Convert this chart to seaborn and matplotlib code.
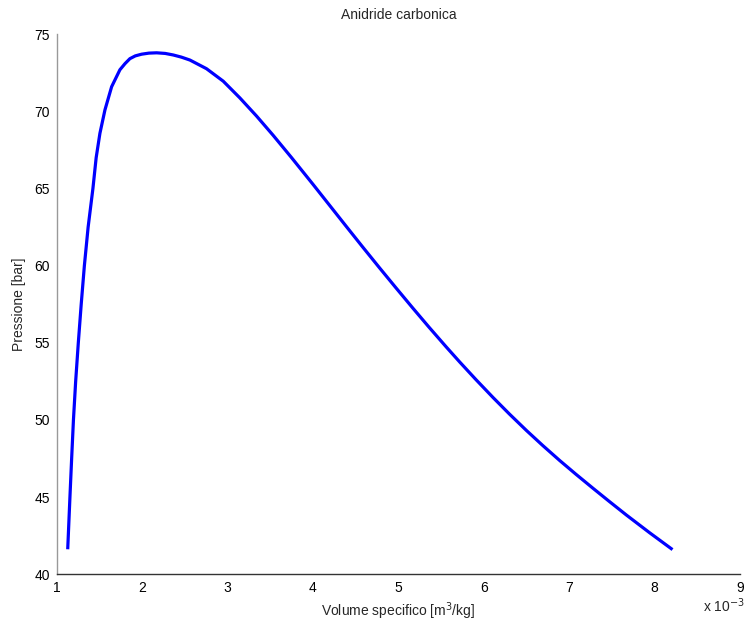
import matplotlib
matplotlib.use("Agg")
import matplotlib.pyplot as plt
import seaborn as sns
import pandas as pd
from matplotlib.ticker import FuncFormatter, FixedLocator

# Saturation curve of CO2
volume_e3 = [1.129, 1.155, 1.175, 1.196, 1.222, 1.253, 1.287, 1.324, 1.368, 1.424,
             1.462, 1.506, 1.565, 1.643, 1.74, 1.80, 1.857,
             1.92, 1.994, 2.08, 2.17, 2.27, 2.364, 2.46, 2.56, 2.754, 2.95,
             3.144, 3.34, 3.533, 3.749, 4.00, 4.20, 4.39, 4.58, 4.78, 4.97,
             5.17, 5.36, 5.56, 5.72, 5.91, 6.11, 6.30, 6.50, 6.69, 6.89,
             7.08, 7.28, 7.47, 7.67, 7.94, 8.21]
pressure_bar = [41.62, 45.0, 47.5, 50.0, 52.5, 55.0, 57.5, 60.0, 62.5, 65.0,
                67.0, 68.58, 70.1, 71.6, 72.7, 73.1, 73.42,
                73.6, 73.71, 73.78, 73.8, 73.76, 73.66, 73.52, 73.33, 72.77, 71.96,
                70.88, 69.70, 68.46, 67.01, 65.28, 63.88, 62.55, 61.23, 59.86, 58.58,
                57.25, 56.01, 54.74, 53.75, 52.61, 51.45, 50.39, 49.32, 48.35, 47.37,
                46.48, 45.57, 44.72, 43.84, 42.70, 41.60]
x_ticks = [1, 2, 3, 4, 5, 6, 7, 8, 9]
y_ticks = [40, 45, 50, 55, 60, 65, 70, 75]

df = pd.DataFrame({"v": [v * 1e-3 for v in volume_e3], "p": pressure_bar})

sns.set_style("white")
plt.rcParams["font.family"] = ["Liberation Sans", "DejaVu Sans"]

fig = plt.figure(figsize=(7.47, 6.27), dpi=100)
ax = fig.add_axes([0.0759, 0.0841, 0.9147, 0.8612])

sns.lineplot(data=df, x="v", y="p", sort=False, color="#0000ff",
             linewidth=2.3, ax=ax, estimator=None)
ax.lines[0].set_solid_joinstyle("round")
ax.lines[0].set_solid_capstyle("butt")

ax.set_xlim(1e-3, 9e-3)
ax.set_ylim(40, 75)
ax.xaxis.set_major_locator(FixedLocator([t * 1e-3 for t in x_ticks]))
ax.xaxis.set_major_formatter(FuncFormatter(lambda v, pos: f"{v * 1e3:g}"))
ax.set_yticks(y_ticks)

for s in ["top", "right"]:
    ax.spines[s].set_visible(False)
ax.spines["left"].set_color("#999999")
ax.spines["bottom"].set_color("#333333")
for s in ["left", "bottom"]:
    ax.spines[s].set_linewidth(1.0)

ax.tick_params(axis="x", direction="in", length=5, width=0.8, color="#333333",
               labelsize=10, pad=5, labelcolor="black")
ax.tick_params(axis="y", direction="in", length=5, width=0.8, color="#555555",
               labelsize=10, pad=5, labelcolor="black")

ax.set_xlabel("Volume specifico [m$^3$/kg]", fontsize=10, labelpad=4)
ax.set_ylabel("Pressione [bar]", fontsize=10, labelpad=6)
ax.set_title("Anidride carbonica", fontsize=10, pad=11)

fig.text(0.9415, 0.0335, "x 10$^{-3}$", fontsize=10, ha="left", va="center")

fig.savefig("out.png", dpi=100, facecolor="white")
